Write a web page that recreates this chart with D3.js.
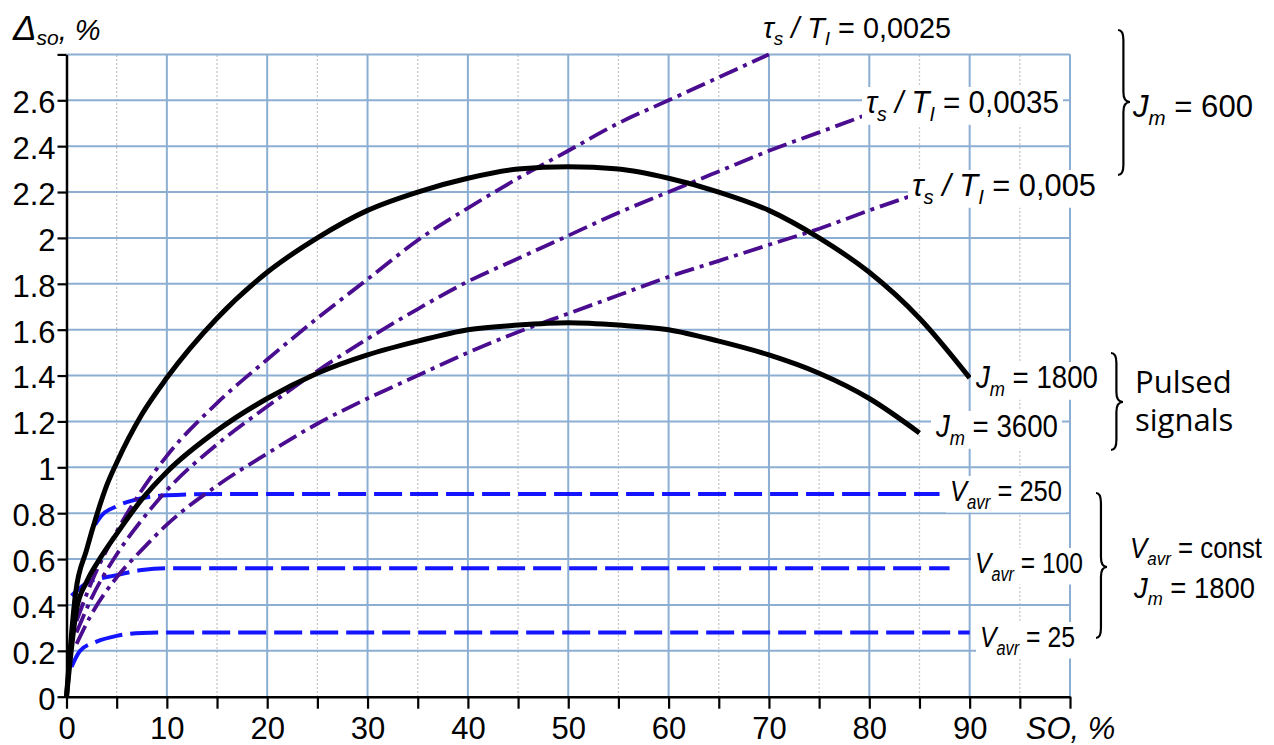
<!DOCTYPE html>
<html><head><meta charset="utf-8">
<script src="https://cdn.jsdelivr.net/npm/d3@7"></script>
<style>body{margin:0;background:#fff}svg{display:block}</style>
</head><body>
<svg id="c" width="1274" height="745"></svg>
<script>
// ---------- data ----------
const xTicks = [0,5,10,15,20,25,30,35,40,45,50,55,60,65,70,75,80,85,90,95,100];
const xTickLabels = ["0","","10","","20","","30","","40","","50","","60","","70","","80","","90","","SO, %"];
const yTicks = [0,0.2,0.4,0.6,0.8,1,1.2,1.4,1.6,1.8,2,2.2,2.4,2.6,2.8];
const yTickLabels = ["0","0.2","0.4","0.6","0.8","1","1.2","1.4","1.6","1.8","2","2.2","2.4","2.6",""];

const jm1800X = [0,0.9,2,3,4,5,7.5,10,15,20,25,30,35,40,45,50,55,60,65,70,75,80,85,90];
const jm1800Y = [0,0.45,0.64,0.79,0.92,1.02,1.23,1.39,1.65,1.85,2.0,2.12,2.2,2.26,2.3,2.31,2.3,2.26,2.2,2.12,2.0,1.85,1.65,1.39];
const jm3600X = [0,1,2,3.3,5,7.5,10,15,20,25,30,35,40,45,50,55,60,65,70,75,80,85];
const jm3600Y = [0,0.38,0.5,0.6,0.71,0.86,0.98,1.16,1.30,1.41,1.49,1.55,1.6,1.62,1.63,1.62,1.6,1.55,1.49,1.41,1.30,1.15];

const tau0025X = [1,2.5,5,7.5,10,15,20,25,30,35,40,45,50,55,60,65,70];
const tau0025Y = [0.33,0.5,0.72,0.9,1.05,1.28,1.47,1.65,1.82,1.99,2.13,2.26,2.38,2.5,2.6,2.7,2.8];
const tau0035X = [1,2.5,5,7.5,10,15,20,25,30,35,40,45,50,55,60,65,70,75,79.3];
const tau0035Y = [0.28,0.43,0.62,0.77,0.9,1.1,1.265,1.42,1.56,1.69,1.81,1.91,2.01,2.11,2.2,2.29,2.38,2.46,2.53];
const tau005X = [1,2.5,5,7.5,10,15,20,25,30,35,40,45,50,55,60,65,70,75,80,85.3];
const tau005Y = [0.23,0.36,0.52,0.64,0.75,0.92,1.06,1.19,1.3,1.4,1.5,1.59,1.67,1.75,1.83,1.9,1.97,2.04,2.12,2.2];

const v250X = [2.85,3.5,5,7.5,10,15,87];
const v250Y = [0.75,0.79,0.83,0.865,0.878,0.884,0.884];
const v100X = [0.5,2,5,7.5,10,15,88];
const v100Y = [0.44,0.495,0.53,0.552,0.56,0.56,0.56];
const v25X = [0.5,1.35,3,5,7.5,10,90];
const v25Y = [0.13,0.2,0.24,0.265,0.278,0.28,0.28];

// ---------- drawing ----------
const svg = d3.select('#c');
const FONT = '"Liberation Sans", Arial, sans-serif';
const x = d3.scaleLinear().domain([0,100]).range([66.5,1070]);
const y = d3.scaleLinear().domain([0,2.8]).range([696.7,54.4]);

const zip = (xs, ys) => xs.map((v,i)=>[v, ys[i]]);

// grid
const g = svg.append('g');
g.selectAll('.minor').data(xTicks.filter(d=>d%10!==0)).enter().append('line')
  .attr('x1',d=>x(d)).attr('x2',d=>x(d)).attr('y1',y(0)).attr('y2',y(2.8))
  .attr('stroke','#b5b5b5').attr('stroke-width',1.3).attr('stroke-dasharray','1.5,2.5');
g.selectAll('.majx').data(xTicks.filter(d=>d%10===0 && d>0)).enter().append('line')
  .attr('x1',d=>x(d)).attr('x2',d=>x(d)).attr('y1',y(0)).attr('y2',y(2.8))
  .attr('stroke','#8daed3').attr('stroke-width',2);
g.selectAll('.majy').data(yTicks.filter(d=>d>0)).enter().append('line')
  .attr('x1',x(0)).attr('x2',x(100)).attr('y1',d=>y(d)).attr('y2',d=>y(d))
  .attr('stroke','#8daed3').attr('stroke-width',2);

// axes
const yAxis = d3.axisLeft(y).tickValues(yTicks).tickSize(9).tickSizeOuter(0)
  .tickFormat((d,i)=>yTickLabels[i]);
const ya = svg.append('g').attr('transform',`translate(${x(0)},0)`).call(yAxis);
ya.select('.domain').attr('stroke','#000').attr('stroke-width',2.5);
ya.selectAll('.tick line').attr('stroke','#000').attr('stroke-width',2.2);
ya.selectAll('.tick text').attr('font-family',FONT).attr('font-size',31).attr('fill','#000')
  .attr('x',-11).attr('dy','0.40em');

const xAxis = d3.axisBottom(x).tickValues(xTicks).tickSize(12).tickSizeOuter(0)
  .tickFormat((d,i)=>xTickLabels[i]);
const xa = svg.append('g').attr('transform',`translate(0,${y(0)})`).call(xAxis);
xa.select('.domain').attr('stroke','#000').attr('stroke-width',2.5);
xa.selectAll('.tick line').attr('stroke','#000').attr('stroke-width',2.2);
xa.selectAll('.tick text').attr('font-family',FONT).attr('font-size',31).attr('fill','#000')
  .attr('y',20).attr('dy','0.71em');
xa.selectAll('.tick text').filter(d=>d===100).attr('font-style','italic');

// lines
const line = d3.line().x(d=>x(d[0])).y(d=>y(d[1])).curve(d3.curveMonotoneX);
const lp = svg.append('g').attr('fill','none');
function drawLine(xs, ys, color, w, dash){
  lp.append('path').datum(zip(xs,ys)).attr('d',line)
    .attr('stroke',color).attr('stroke-width',w)
    .attr('stroke-dasharray',dash||null).attr('stroke-linejoin','round');
}
const BLUE = '#1414ff', PURPLE = '#4b0d8f';
drawLine(v250X, v250Y, BLUE, 4, '28,8');
drawLine(v100X, v100Y, BLUE, 4, '28,8');
drawLine(v25X, v25Y, BLUE, 4, '28,8');
drawLine(tau0025X, tau0025Y, PURPLE, 3.8, '20,6,4,6');
drawLine(tau0035X, tau0035Y, PURPLE, 3.8, '20,6,4,6');
drawLine(tau005X, tau005Y, PURPLE, 3.8, '20,6,4,6');
drawLine(jm1800X, jm1800Y, '#000', 5);
drawLine(jm3600X, jm3600Y, '#000', 5);

// labels (fitted to the width they have in the picture)
const lab = svg.append('g');
function label(px, py, parts, size, width, bg){
  const gg = lab.append('g');
  const t = gg.append('text').attr('x',0).attr('y',0)
    .attr('font-family',FONT).attr('font-size',size).attr('fill','#000');
  parts.forEach(p=>{
    const s = t.append('tspan').text(p.t);
    if(p.i) s.attr('font-style','italic');
    if(p.sub){ s.attr('font-size',size*0.66).attr('dy',size*0.25); }
    if(p.up){ s.attr('dy',-size*0.25); }
  });
  const b = t.node().getBBox();
  const sx = width / b.width;
  gg.attr('transform',`translate(${px - b.x*sx},${py}) scale(${sx},1)`);
  if(bg!==false){
    gg.insert('rect', () => t.node()).attr('x',b.x-4/sx).attr('y',b.y+2).attr('width',b.width+8/sx)
      .attr('height',b.height-2).attr('fill','#fff');
  }
  return t;
}
const tauParts = v => [{t:'τ',i:1},{t:'s',i:1,sub:1},{t:' / T',i:1,up:1},{t:'I',i:1,sub:1},{t:' = '+v,up:1}];
label(763, 38, tauParts('0,0025'), 29, 188, false);
label(866, 113, tauParts('0,0035'), 31, 193);
label(912, 196, tauParts('0,005'), 31, 184);
label(1132, 117, [{t:'J',i:1},{t:'m',i:1,sub:1},{t:'  =  600',up:1}], 31, 121, false);
label(975, 388, [{t:'J',i:1},{t:'m',i:1,sub:1},{t:' = 1800',up:1}], 31, 123);
label(935, 437, [{t:'J',i:1},{t:'m',i:1,sub:1},{t:' = 3600',up:1}], 31, 123);
label(950, 501, [{t:'V',i:1},{t:'avr',i:1,sub:1},{t:' = 250',up:1}], 30, 112);
label(975, 573, [{t:'V',i:1},{t:'avr',i:1,sub:1},{t:' = 100',up:1}], 30, 108);
label(980, 647, [{t:'V',i:1},{t:'avr',i:1,sub:1},{t:' = 25',up:1}], 30, 95);
label(1130, 558, [{t:'V',i:1},{t:'avr',i:1,sub:1},{t:' = const',up:1}], 29, 132, false);
label(1133, 598, [{t:'J',i:1},{t:'m',i:1,sub:1},{t:' = 1800',up:1}], 29, 122, false);
lab.append('text').attr('x',1135).attr('y',393).attr('font-family','"Open Sans", sans-serif')
  .attr('font-size',31).text('Pulsed');
lab.append('text').attr('x',1135).attr('y',431).attr('font-family','"Open Sans", sans-serif')
  .attr('font-size',31).text('signals');

// axis title
const at = svg.append('text').attr('x',13).attr('y',40).attr('font-family',FONT).attr('fill','#000')
  .attr('font-style','italic').attr('font-size',30);
at.append('tspan').text('Δ').attr('font-size',35);
at.append('tspan').text('so').attr('font-size',21).attr('dy',5);
at.append('tspan').text(', %').attr('font-size',29).attr('dy',-5);

// braces
function brace(x0, y0, y1, ym, w){
  const a = x0 + w*0.45, r = 10;
  const p = `M${x0},${y0} Q${a},${y0} ${a},${y0+r} L${a},${ym-r} Q${a},${ym} ${x0+w},${ym}`
          + ` Q${a},${ym} ${a},${ym+r} L${a},${y1-r} Q${a},${y1} ${x0},${y1}`;
  svg.append('path').attr('d',p).attr('fill','none').attr('stroke','#000').attr('stroke-width',2.2);
}
brace(1118, 30, 175, 102, 12);
brace(1111, 353, 450, 402, 12);
brace(1096, 493, 638, 567, 11);
</script>
</body></html>
